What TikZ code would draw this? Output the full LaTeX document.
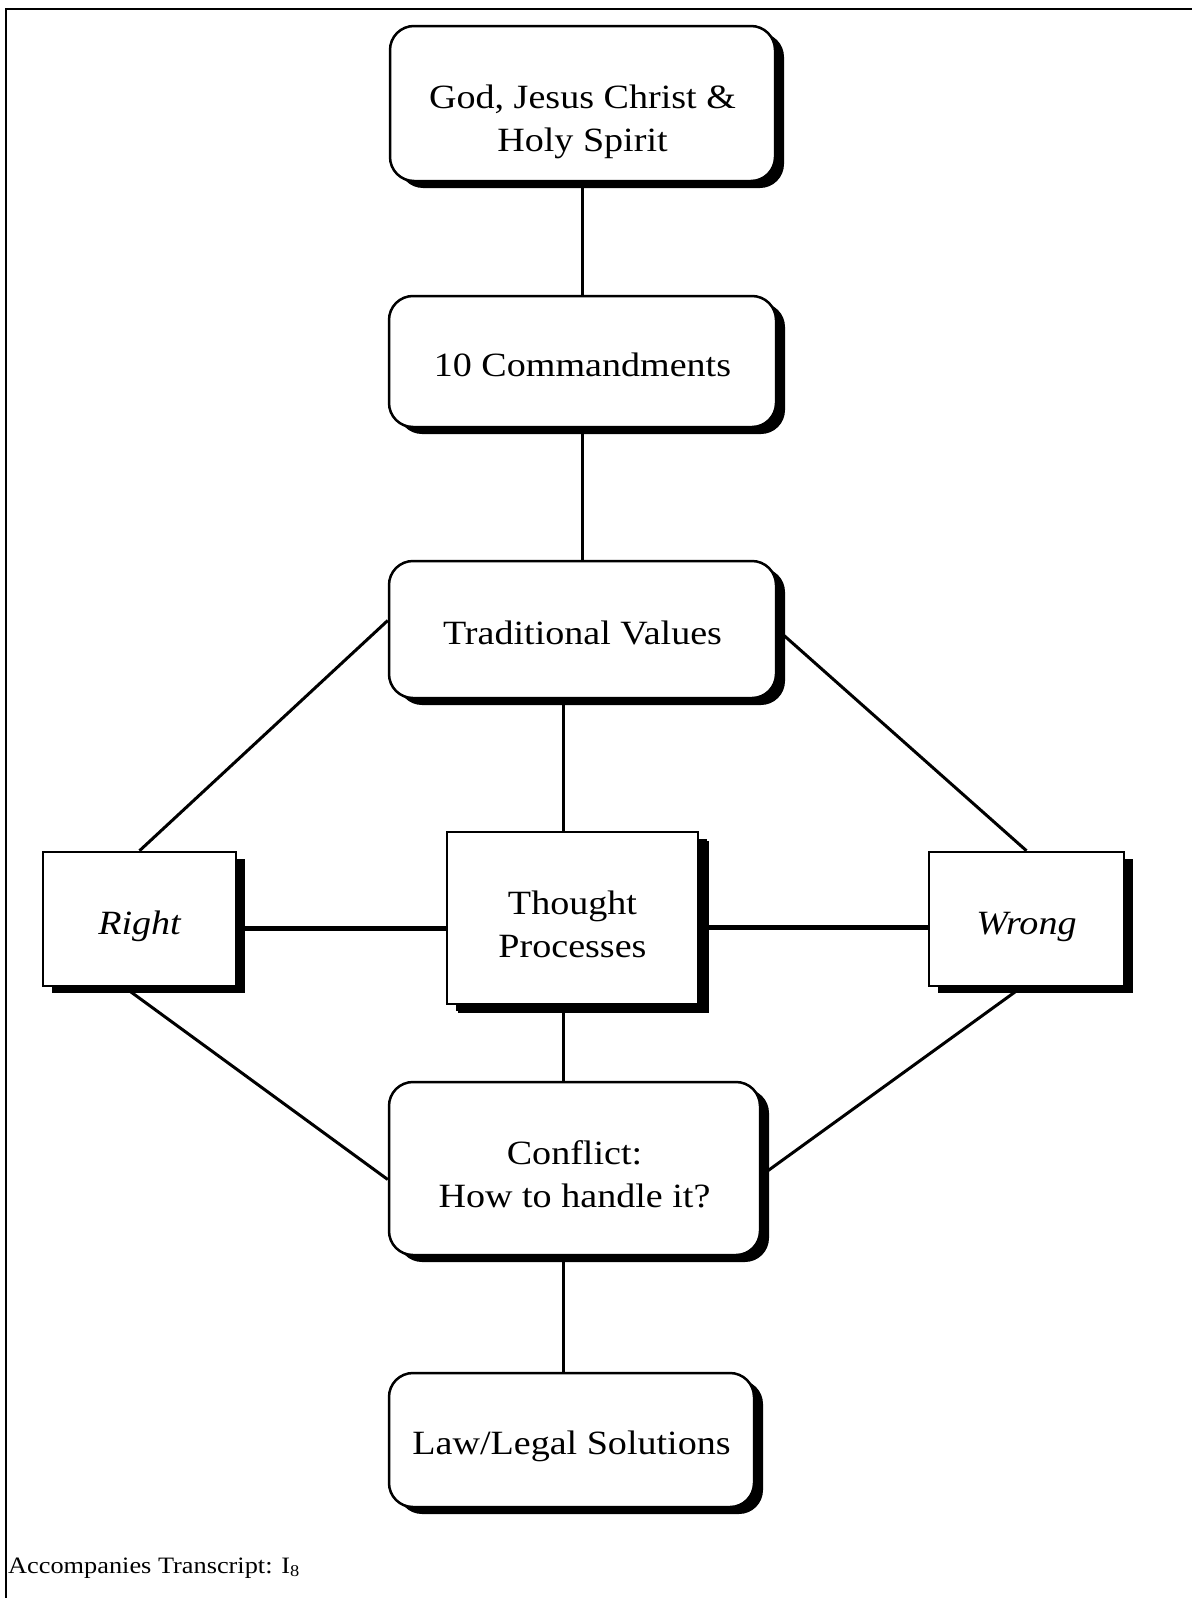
\documentclass[tikz,border=0pt]{standalone}
\usepackage{fontspec}
\setmainfont{Liberation Serif}[FakeStretch=1.12]
\usetikzlibrary{shadows}
\pgfdeclarelayer{background}
\pgfsetlayers{background,main}

\tikzset{
  boxbase/.style={draw, line width=2.5pt, fill=white, inner sep=0pt,
    align=center, font=\fontsize{34}{43}\selectfont,
    general shadow={shadow xshift=9pt, shadow yshift=-7pt, fill=black}},
  roundbox/.style={boxbase, rounded corners=24pt},
  squarebox/.style={boxbase},
  link/.style={line width=3pt},
  boldlink/.style={line width=5pt},
  frameline/.style={line width=2pt}
}

\begin{document}
\begin{tikzpicture}[x=1pt, y=-1pt]
  \useasboundingbox (0,0) rectangle (1192,1598);

  % page frame (left and top rules)
  \draw[frameline] (6,1598) -- (6,9) -- (1192,9);

  % boxes (text height pads the text down inside each box)
  \node[roundbox, minimum width=385pt, minimum height=155pt, text height=104pt] (god) at (582.5,103.5)
    {God, Jesus Christ \&\\Holy Spirit};
  \node[roundbox, minimum width=387pt, minimum height=131pt, text height=31pt] (cmd) at (582.5,361.5)
    {10 Commandments};
  \node[roundbox, minimum width=387pt, minimum height=137pt, text height=31pt] (tv) at (582.5,629.5)
    {Traditional Values};
  \node[squarebox, minimum width=193pt, minimum height=134pt, text height=39pt] (right) at (139.5,919)
    {\itshape Right};
  \node[squarebox, minimum width=251pt, minimum height=172pt, text height=80pt,
        general shadow={shadow xshift=11pt, shadow yshift=-9pt, fill=black}] (tp) at (572.5,918)
    {Thought\\Processes};
  \node[squarebox, minimum width=195pt, minimum height=134pt, text height=39pt] (wrong) at (1026.5,919)
    {\itshape Wrong};
  \node[roundbox, minimum width=371pt, minimum height=173pt, text height=78pt] (conf) at (574.5,1168.5)
    {Conflict:\\How to handle it?};
  \node[roundbox, minimum width=365pt, minimum height=134pt, text height=36pt] (law) at (571.5,1440)
    {Law/Legal Solutions};

  % caption
  \node[anchor=base west, inner sep=0pt, font=\fontsize{23.5}{28}\selectfont] (cap) at (8,1573)
    {Accompanies Transcript: I\textsubscript{8}};

  % connectors
  \coordinate (spine) at (563,0);
  \begin{pgfonlayer}{background}
    \draw[link] (god) -- (cmd);
    \draw[link] (cmd) -- (tv);
    \draw[link] (tv.south -| spine) -- (tp.north -| spine);
    \draw[link] (tp.south -| spine) -- (conf.north -| spine);
    \draw[link] (conf.south -| spine) -- (law.north -| spine);
    \draw[link] ([yshift=9pt]tv.west) -- (right.north);
    \draw[link] (tv.east) -- (wrong.north);
    \draw[link] ([xshift=-15pt]right.south) -- ([yshift=-11pt]conf.west);
    \draw[link] ([xshift=-5pt]wrong.south) -- ([yshift=-7pt]conf.east);
    \draw[boldlink] ([yshift=-9pt]right.east) -- ([yshift=-9pt]right.east -| tp.west);
    \draw[boldlink] ([yshift=-9pt]tp.east) -- ([yshift=-9pt]tp.east -| wrong.west);
  \end{pgfonlayer}
\end{tikzpicture}
\end{document}
